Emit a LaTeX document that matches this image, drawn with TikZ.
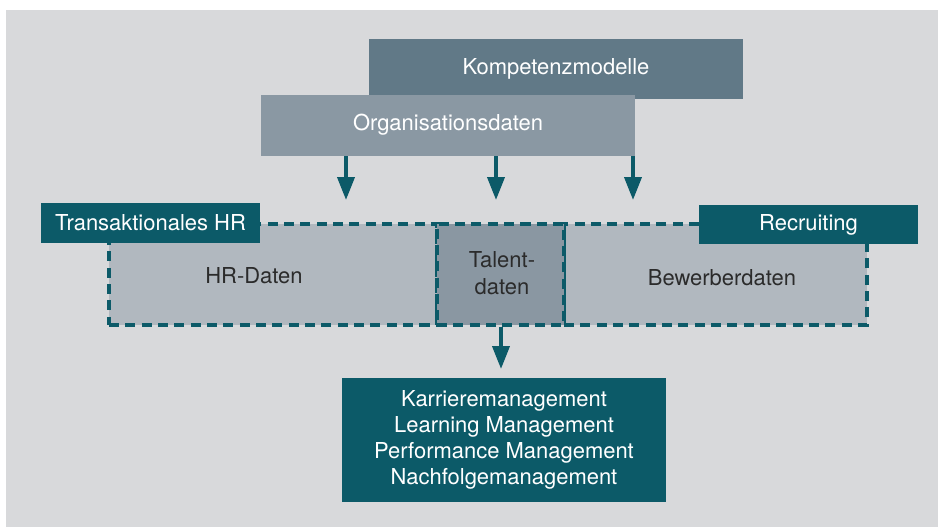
\documentclass[tikz,border=0pt]{standalone}
\usepackage{fontspec}
\setmainfont{TeX Gyre Heros}
\usetikzlibrary{arrows.meta,positioning,calc}
\definecolor{cBack}{HTML}{D8D9DB}
\definecolor{cKomp}{HTML}{617987}
\definecolor{cOrga}{HTML}{8A98A3}
\definecolor{cTeal}{HTML}{0C5A68}
\definecolor{cData}{HTML}{B1B8BF}
\definecolor{cTalent}{HTML}{8A97A2}
\definecolor{cInk}{HTML}{2B2B2B}
\tikzset{
  head/.style={rectangle, inner sep=0pt, text=white, minimum width=7.48cm, minimum height=1.2cm},
  tag/.style={rectangle, inner sep=0pt, fill=cTeal, text=white, minimum width=4.38cm, minimum height=0.79cm},
  dbox/.style={rectangle, inner sep=0pt, draw=cTeal, line width=1.8pt, dash pattern=on 5.7pt off 3.6pt, minimum height=2.02cm},
  dtext/.style={text=cInk, align=center, inner sep=0pt},
  pfeil/.style={-{Triangle[width=3.4mm, length=4.6mm]}, draw=cTeal, fill=cTeal, line width=2.2pt},
}

\begin{document}
\begin{tikzpicture}[x=0.02cm, y=-0.02cm, font=\fontsize{12.5}{14.8}\selectfont]
  \useasboundingbox (0,0) rectangle (938,527);
  \fill[cBack] (6,10) rectangle (938,527);
  \node[head, fill=cKomp, minimum height=1.2cm] (komp) at (556,69) {\raisebox{3pt}{Kompetenzmodelle}};
  \node[head, fill=cOrga, minimum height=1.22cm] (orga) at (448,125.5) {\raisebox{4pt}{Organisationsdaten}};
  \node[dbox, fill=cData, minimum width=6.56cm] (hr) at (273,274.5) {};
  \node[dbox, fill=cData, minimum width=6.06cm] (bew) at (715.5,274.5) {};
  \node[dbox, fill=cTalent, minimum width=2.54cm] (talent) at (500.5,274.5) {};
  \node[dtext] (hrtext) at (254,276) {HR-Daten};
  \node[dtext] (bewtext) at (722,278) {Bewerberdaten};
  \node[dtext, font=\fontsize{12.5}{15.4}\selectfont] (talenttext) at (502,273) {Talent-\\daten};
  \node[tag] (trans) at (150.5,223) {Transaktionales HR};
  \node[tag] (recr) at (808.5,224.5) {Recruiting};
  \node[rectangle, inner sep=0pt, fill=cTeal, text=white, align=center, minimum width=6.48cm, minimum height=2.48cm] (apps) at (504,440)
    {Karrieremanagement\\Learning Management\\Performance Management\\Nachfolgemanagement};
  \foreach \x/\n in {346/t1, 496/t2, 633/t3} {
    \coordinate (\n) at (\x,200);
    \draw[pfeil] (orga.south -| \n) -- (\n);
  }
  \coordinate (t4) at (501,369);
  \draw[pfeil] (talent.south -| t4) -- (t4);
\end{tikzpicture}
\end{document}
